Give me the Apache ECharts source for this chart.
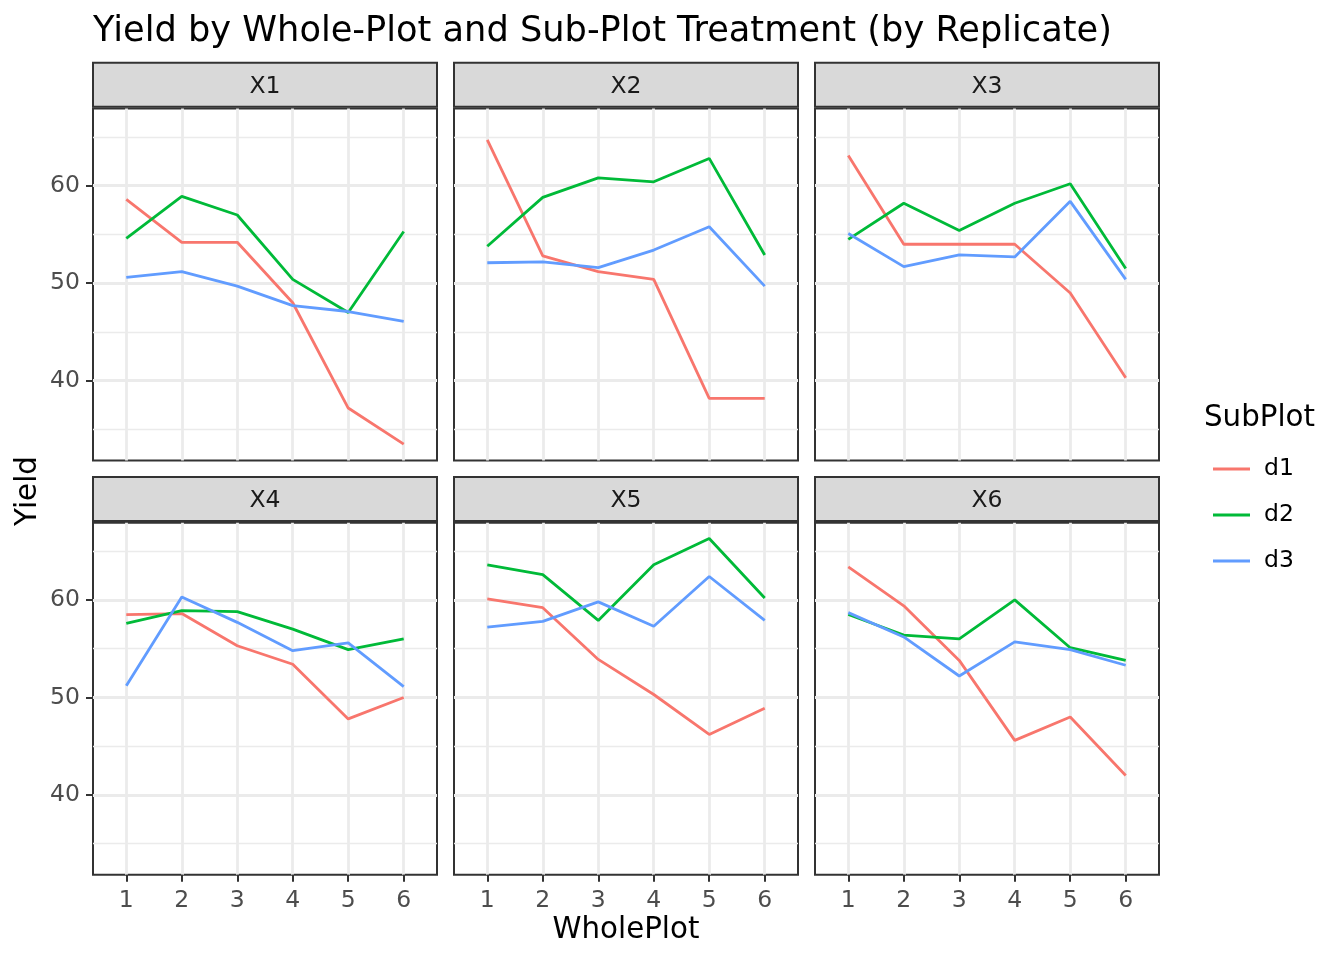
<!DOCTYPE html>
<html>
<head>
<meta charset="utf-8">
<script src="https://cdn.jsdelivr.net/npm/echarts@6/dist/echarts.min.js"></script>
<style>
  html, body { margin: 0; padding: 0; background: #ffffff; }
  #chart { width: 1344px; height: 960px; }
</style>
</head>
<body>
<div id="chart"></div>
<script>
// ---- data ----
const wholePlot = [1, 2, 3, 4, 5, 6];
const replicates = ['X1', 'X2', 'X3', 'X4', 'X5', 'X6'];
const subPlots = ['d1', 'd2', 'd3'];
// one row per replicate (X1..X6), one value per WholePlot level (1..6)
const d1Yield = [
  [58.6, 54.2, 54.2, 48.0, 37.2, 33.5],
  [64.7, 52.8, 51.2, 50.4, 38.2, 38.2],
  [63.1, 54.0, 54.0, 54.0, 49.0, 40.3],
  [58.5, 58.6, 55.3, 53.4, 47.8, 50.0],
  [60.1, 59.2, 53.9, 50.3, 46.2, 48.9],
  [63.4, 59.4, 53.8, 45.6, 48.0, 42.0]
];
const d2Yield = [
  [54.6, 58.9, 57.0, 50.4, 47.0, 55.3],
  [53.8, 58.8, 60.8, 60.4, 62.8, 52.9],
  [54.5, 58.2, 55.4, 58.2, 60.2, 51.5],
  [57.6, 58.9, 58.8, 57.0, 54.9, 56.0],
  [63.6, 62.6, 57.9, 63.6, 66.3, 60.2],
  [58.5, 56.4, 56.0, 60.0, 55.1, 53.8]
];
const d3Yield = [
  [50.6, 51.2, 49.7, 47.7, 47.1, 46.1],
  [52.1, 52.2, 51.6, 53.4, 55.8, 49.7],
  [55.1, 51.7, 52.9, 52.7, 58.4, 50.4],
  [51.2, 60.3, 57.7, 54.8, 55.6, 51.1],
  [57.2, 57.8, 59.8, 57.3, 62.4, 57.9],
  [58.7, 56.2, 52.2, 55.7, 54.9, 53.3]
];
const yMajorTicks = [40, 50, 60];
const yMinorTicks = [35, 45, 55, 65];
const xTicks = [1, 2, 3, 4, 5, 6];

// ---- layout / style ----
const FONT = 'DejaVu Sans';
const colors = { d1: '#F8766D', d2: '#00BA38', d3: '#619CFF' };
const yieldBySub = { d1: d1Yield, d2: d2Yield, d3: d3Yield };
const colLefts = [93, 454, 815];
const rowTops = [108.5, 522.7];
const panelW = 344;
const panelH = 352;
const stripH = 44;
const yMin = 31.82, yMax = 67.92;
const xMin = 0.4, xMax = 6.6;

const grids = [], xAxes = [], yAxes = [], series = [], graphics = [];

replicates.forEach((rep, i) => {
  const col = i % 3, row = Math.floor(i / 3);
  const left = colLefts[col], top = rowTops[row];
  grids.push({
    left: left, top: top, width: panelW, height: panelH,
    show: true, backgroundColor: '#ffffff',
    borderColor: '#333333', borderWidth: 2, containLabel: false
  });
  const showX = row === 1, showY = col === 0;
  xAxes.push({
    type: 'value', gridIndex: i, min: xMin, max: xMax,
    axisLine: { show: false },
    axisTick: { show: showX, customValues: xTicks, length: 7, lineStyle: { color: '#333333', width: 2 } },
    axisLabel: { show: showX, customValues: xTicks, margin: 14, color: '#4D4D4D', fontSize: 23.5, fontFamily: FONT },
    splitLine: { show: true, lineStyle: { color: '#EBEBEB', width: 2.8 } }
  });
  yAxes.push({
    type: 'value', gridIndex: i, min: yMin, max: yMax, position: 'left',
    axisLine: { show: false },
    axisTick: { show: showY, customValues: yMajorTicks, length: 7, lineStyle: { color: '#333333', width: 2 } },
    axisLabel: { show: showY, customValues: yMajorTicks, margin: 13, color: '#4D4D4D', fontSize: 23.5, fontFamily: FONT },
    splitLine: { show: true, lineStyle: { color: '#EBEBEB', width: 2.8 } }
  });
  yAxes.push({
    type: 'value', gridIndex: i, min: yMin, max: yMax, position: 'right',
    axisLine: { show: false },
    axisTick: { show: false, customValues: yMinorTicks },
    axisLabel: { show: false, customValues: yMinorTicks },
    splitLine: { show: true, lineStyle: { color: '#EBEBEB', width: 1.4 } }
  });
  subPlots.forEach((sp) => {
    const vals = yieldBySub[sp][i];
    series.push({
      name: sp, type: 'line', xAxisIndex: i, yAxisIndex: 2 * i,
      data: wholePlot.map((x, j) => [x, vals[j]]),
      showSymbol: false, symbol: 'none', silent: true,
      color: colors[sp],
      lineStyle: { color: colors[sp], width: 2.8 },
      z: 3
    });
  });
  // strip
  graphics.push({
    type: 'rect', silent: true,
    shape: { x: left, y: top - stripH - 1.7, width: panelW, height: stripH },
    style: { fill: '#D9D9D9', stroke: '#333333', lineWidth: 2 }
  });
  graphics.push({
    type: 'text', silent: true,
    x: left + panelW / 2, y: top - 1.7 - stripH / 2 + 2,
    style: { text: rep, fill: '#1A1A1A', font: '23.5px "DejaVu Sans"', align: 'center', verticalAlign: 'middle' }
  });
});

graphics.push({
  type: 'text', silent: true, x: 28, y: 491, rotation: Math.PI / 2,
  style: { text: 'Yield', fill: '#000000', font: '29.3px "DejaVu Sans"', align: 'center', verticalAlign: 'middle' }
});
graphics.push({
  type: 'text', silent: true, x: 626, y: 930,
  style: { text: 'WholePlot', fill: '#000000', font: '29.3px "DejaVu Sans"', align: 'center', verticalAlign: 'middle' }
});
graphics.push({
  type: 'text', silent: true, x: 1204, y: 418,
  style: { text: 'SubPlot', fill: '#000000', font: '29.3px "DejaVu Sans"', align: 'left', verticalAlign: 'middle' }
});

const option = {
  animation: false,
  backgroundColor: '#ffffff',
  title: {
    text: 'Yield by Whole-Plot and Sub-Plot Treatment (by Replicate)',
    left: 88, top: 9,
    textStyle: { fontFamily: FONT, fontSize: 35.2, fontWeight: 'normal', color: '#000000' }
  },
  legend: {
    orient: 'vertical', left: 1208, top: 452,
    data: subPlots, icon: 'rect', itemWidth: 37, itemHeight: 3, itemGap: 22,
    selectedMode: false,
    textStyle: { fontFamily: FONT, fontSize: 23.5, color: '#000000', lineHeight: 24, padding: [0, 0, 0, 9] }
  },
  grid: grids,
  xAxis: xAxes,
  yAxis: yAxes,
  series: series,
  graphic: graphics
};

const chart = echarts.init(document.getElementById('chart'), null, { renderer: 'canvas' });
chart.setOption(option);
</script>
</body>
</html>
